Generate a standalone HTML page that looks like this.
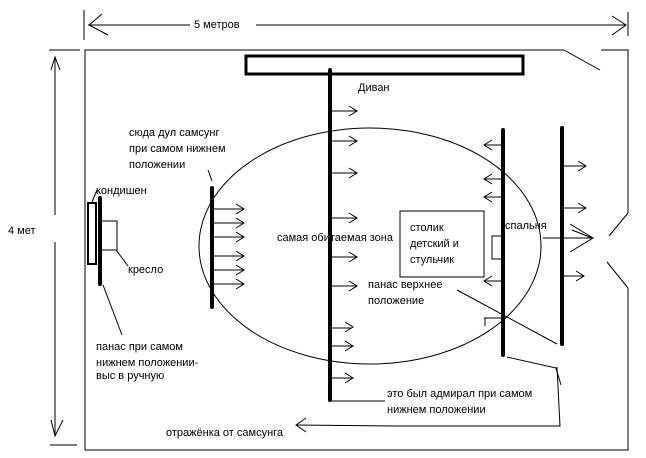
<!DOCTYPE html>
<html><head><meta charset="utf-8"><style>
html,body{margin:0;padding:0;background:#fff;}
svg{display:block;}
text{font-family:"Liberation Sans",sans-serif;font-size:11px;fill:#000;}
</style></head><body>
<svg width="646" height="458" viewBox="0 0 646 458" xmlns="http://www.w3.org/2000/svg">
<g stroke="#000" fill="none" stroke-width="1">
<!-- dimension top -->
<line x1="84" y1="10" x2="84" y2="40"/>
<line x1="628" y1="12" x2="628" y2="36"/>
<line x1="88" y1="25" x2="190" y2="25"/>
<line x1="256" y1="25" x2="626" y2="25"/>
<polyline points="102,14 89,25 108,35"/>
<polyline points="612,16 626,25 612,35"/>
<!-- dimension left -->
<line x1="49" y1="50" x2="80" y2="50"/>
<line x1="50" y1="445" x2="77" y2="445"/>
<line x1="55" y1="57" x2="55" y2="215"/>
<line x1="55" y1="242" x2="55" y2="436"/>
<polyline points="51,70 55,57 60,70"/>
<polyline points="51,420 55,436 63,420"/>
<!-- room -->
<polyline points="564,50 85,50 85,450 628,450 628,288"/>
<polyline points="601,50 628,50 628,213"/>
<line x1="564" y1="50" x2="600" y2="70"/>
<line x1="628" y1="213" x2="609" y2="236"/>
<line x1="607" y1="262" x2="628" y2="288"/>
<!-- ellipse -->
<ellipse cx="370" cy="246" rx="171" ry="118"/>
<!-- furniture -->
<rect x="246" y="56" width="277" height="18" stroke-width="3"/>
<rect x="88" y="203" width="8" height="61" stroke-width="2"/>
<rect x="101" y="221" width="16" height="29"/>
<rect x="400" y="211" width="84" height="66"/>
<rect x="492" y="236" width="11" height="23"/>
<!-- thick lines -->
<g stroke-width="4" stroke-linecap="round">
<line x1="330" y1="70" x2="330" y2="400"/>
<line x1="212" y1="188" x2="212" y2="307"/>
<line x1="100" y1="198" x2="100" y2="284"/>
<line x1="503" y1="130" x2="503" y2="355"/>
<line x1="562" y1="128" x2="562" y2="344"/>
</g>
<!-- pointer lines -->
<line x1="330" y1="401" x2="385" y2="401"/>
<line x1="208" y1="170" x2="212" y2="181"/>
<line x1="92" y1="202" x2="97" y2="190"/>
<line x1="116" y1="250" x2="128" y2="266"/>
<line x1="103" y1="285" x2="122" y2="335"/>
<line x1="457" y1="290" x2="557" y2="344"/>
<polyline points="507,357 556,368 561,385"/>
<polyline points="296,425 400,426 560,426 557,367"/>
<polyline points="306,418 296,425 306,432"/>
<!-- arrows from left line -->
<g>
<path d="M214,209h30 M236,204l8,5l-8,5"/>
<path d="M214,223h30 M236,218l8,5l-8,5"/>
<path d="M214,237h30 M236,232l8,5l-8,5"/>
<path d="M214,256h30 M236,251l8,5l-8,5"/>
<path d="M214,270h30 M236,265l8,5l-8,5"/>
<path d="M214,284h30 M236,279l8,5l-8,5"/>
<path d="M332,111h25 M349,106l8,5l-8,5"/>
<path d="M332,141h25 M349,136l8,5l-8,5"/>
<path d="M332,173h25 M349,168l8,5l-8,5"/>
<path d="M332,218h25 M349,213l8,5l-8,5"/>
<path d="M332,257h25 M349,252l8,5l-8,5"/>
<path d="M332,286h25 M349,281l8,5l-8,5"/>
<path d="M332,328h20 M345,322l8,5l-8,5"/>
<path d="M332,346h20 M345,341l8,5l-8,5"/>
<path d="M332,378h20 M345,373l8,5l-8,5"/>
<path d="M501,145h-17 M492,140l-8,5l8,5"/>
<path d="M501,179h-17 M492,174l-8,5l8,5"/>
<path d="M501,197h-17 M492,192l-8,5l8,5"/>
<path d="M501,281h-17 M492,276l-8,5l8,5"/>
<path d="M501,318h-17 M485,318v8"/>
<path d="M564,166h22 M578,161l8,5l-8,5"/>
<path d="M564,208h22 M578,203l8,5l-8,5"/>
<path d="M543,238h50 M570,224l23,14l-23,14 M572,230l20,8"/>
<path d="M564,276h20 M576,271l8,5l-8,5"/>
</g>
</g>
<text x="194" y="28">5 метров</text>
<text x="8" y="234">4 мет</text>
<text x="358" y="91">Диван</text>
<text x="129" y="136">сюда дул самсунг</text>
<text x="129" y="152">при самом нижнем</text>
<text x="129" y="168">положении</text>
<text x="96" y="194">кондишен</text>
<text x="128" y="273">кресло</text>
<text x="96" y="350">панас при самом</text>
<text x="96" y="366">нижнем положении-</text>
<text x="96" y="379">выс в ручную</text>
<text x="277" y="241">самая обитаемая зона</text>
<text x="410" y="231">столик</text>
<text x="410" y="247">детский и</text>
<text x="410" y="263">стульчик</text>
<text x="505" y="229">спальня</text>
<text x="368" y="288">панас верхнее</text>
<text x="368" y="304">положение</text>
<text x="387" y="397">это был адмирал при самом</text>
<text x="387" y="413">нижнем положении</text>
<text x="166" y="436">отражёнка от самсунга</text>
</svg>
</body></html>
